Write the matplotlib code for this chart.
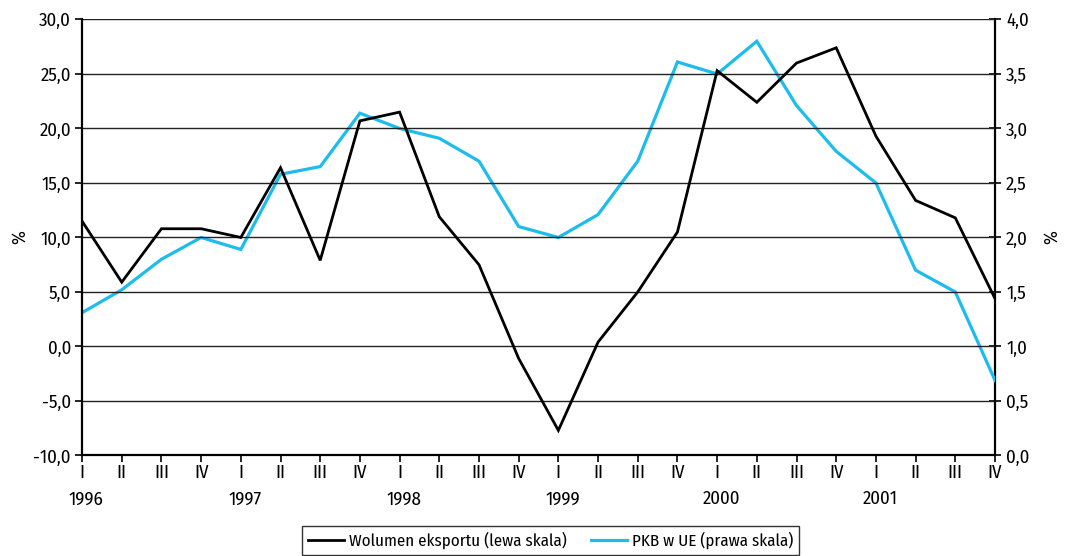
import matplotlib
matplotlib.use("Agg")
import matplotlib.pyplot as plt
from matplotlib import font_manager
from matplotlib.transforms import blended_transform_factory

installed = {f.name for f in font_manager.fontManager.ttflist}
preferred = ["Fira Sans Condensed", "PT Sans Narrow", "Asap Condensed",
             "Roboto Condensed", "Open Sans"]
family = [n for n in preferred if n in installed][:1] + ["DejaVu Sans"]
plt.rcParams['font.family'] = family

quarters = ["I", "II", "III", "IV"] * 6
years = ["1996", "1997", "1998", "1999", "2000", "2001"]

# Export volume growth, % (left scale)
export_volume = [11.5, 5.9, 10.8, 10.8, 10.0, 16.4, 7.9, 20.7,
                 21.5, 11.9, 7.5, -1.1, -7.7, 0.4, 5.0, 10.5,
                 25.3, 22.4, 26.0, 27.4, 19.3, 13.4, 11.8, 4.4]

# EU GDP growth, % (right scale)
eu_gdp = [1.31, 1.52, 1.80, 2.00, 1.89, 2.58, 2.65, 3.14,
          3.00, 2.91, 2.70, 2.10, 2.00, 2.21, 2.70, 3.61,
          3.50, 3.80, 3.21, 2.79, 2.50, 1.70, 1.50, 0.69]

label_export = "Wolumen eksportu (lewa skala)"
label_gdp = "PKB w UE (prawa skala)"

fs = 13.5
fs_leg = 12.2

fig = plt.figure(figsize=(10.67, 5.56), dpi=100)
ax = fig.add_axes([0.0769, 0.1808, 0.8556, 0.7842])
ax2 = ax.twinx()

x = list(range(len(quarters)))

ax.set_zorder(ax2.get_zorder() + 1)
ax.patch.set_visible(False)

l1, = ax.plot(x, export_volume, color="black", lw=2.0, solid_joinstyle="miter", zorder=3)
l2, = ax2.plot(x, eu_gdp, color="#1cbcec", lw=2.3, solid_joinstyle="miter", zorder=3)

ax.set_xlim(0, len(quarters) - 1)
ax.set_ylim(-10, 30)
ax2.set_ylim(0, 4)

yt = [-10, -5, 0, 5, 10, 15, 20, 25, 30]
ax.set_yticks(yt)
ax.set_yticklabels([f"{v:.1f}".replace(".", ",") for v in yt])
yt2 = [0, 0.5, 1, 1.5, 2, 2.5, 3, 3.5, 4]
ax2.set_yticks(yt2)
ax2.set_yticklabels([f"{v:.1f}".replace(".", ",") for v in yt2])

ax.set_xticks(x)
ax.set_xticklabels(quarters)

for a in (ax, ax2):
    a.grid(False)
    for s in a.spines.values():
        s.set_visible(False)

for v in yt:
    ax.axhline(v, color="#222222", lw=1.0, zorder=1)

ax.spines["left"].set_visible(True)
ax.spines["bottom"].set_visible(True)
ax2.spines["right"].set_visible(True)
for s in (ax.spines["left"], ax.spines["bottom"], ax2.spines["right"]):
    s.set_linewidth(1.6)
    s.set_color("black")

ax.tick_params(axis="y", direction="out", length=5, width=1.2, labelsize=fs, pad=3)
ax.tick_params(axis="x", direction="out", length=5, width=1.2, labelsize=fs, pad=1)
ax2.tick_params(axis="y", direction="inout", length=8, width=1.2, labelsize=fs, pad=4)

ax.set_ylabel("%", fontsize=fs)
ax2.set_ylabel("%", fontsize=fs)
ax.yaxis.set_label_coords(-0.058, 0.5)
ax2.yaxis.set_label_coords(1.053, 0.5)

trans = blended_transform_factory(ax.transData, ax.transAxes)
for i, yr in enumerate(years):
    ax.text(4 * i + 0.1, -0.08, yr, transform=trans, ha="center", va="top", fontsize=fs)

leg = fig.legend([l1, l2], [label_export, label_gdp], loc="upper center",
                 bbox_to_anchor=(0.516, 0.054), ncol=2, frameon=True, fancybox=False,
                 edgecolor="black", fontsize=fs_leg, handlelength=2.15, columnspacing=1.4,
                 borderpad=0.35, handletextpad=0.3, borderaxespad=0.0)
leg.get_frame().set_linewidth(1.0)

fig.savefig("out.png", dpi=100)
